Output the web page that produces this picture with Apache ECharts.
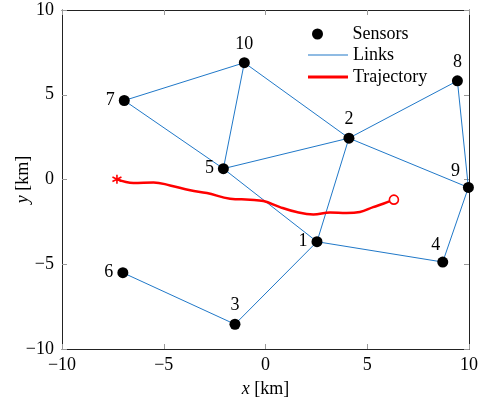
<!DOCTYPE html>
<html>
<head>
<meta charset="utf-8">
<script src="https://cdn.jsdelivr.net/npm/echarts@6/dist/echarts.min.js"></script>
<style>html,body{margin:0;padding:0;background:#fff}#c{width:486px;height:405px}</style>
</head>
<body>
<div id="c"></div>
<script>
// ---- data ----
const sensorIds = ['1','2','3','4','5','6','7','8','9','10'];
const sensorX = [2.53, 4.10, -1.50, 8.71, -2.07, -7.01, -6.94, 9.43, 9.97, -1.04];
const sensorY = [-3.67, 2.44, -8.54, -4.87, 0.64, -5.50, 4.66, 5.82, -0.47, 6.89];
// links as pairs of sensor ids
const linkFrom = ['7','7','10','10','5','5','2','2','2','8','9','4','1','3'];
const linkTo   = ['10','5','5','2','2','1','1','8','9','9','4','1','3','6'];
const trajX = [-7.30, -6.49, -5.50, -4.69, -3.70, -2.88, -1.74, -0.76, -0.10, 0.71, 1.53, 2.35, 3.17, 3.98, 4.64, 5.29, 5.78, 6.31];
const trajY = [0.02, -0.21, -0.17, -0.35, -0.64, -0.80, -1.13, -1.19, -1.27, -1.63, -1.92, -2.06, -1.94, -1.98, -1.92, -1.63, -1.43, -1.19];
const xTicks = [-10, -5, 0, 5, 10];
const yTicks = [-10, -5, 0, 5, 10];

// ---- styles ----
const labelPos = {'1':'left','2':'top','3':'top','4':[-6,-20],'5':'left','6':'left','7':'left','8':'top','9':[-12,-20],'10':'top'};
const FONT = 'Liberation Serif';
const FS = 18;
const BLUE = '#2078c8';
const RED = '#ff0000';
const fmt = v => (xTicks.indexOf(v) >= 0 || yTicks.indexOf(v) >= 0) ? String(v).replace('-', '\u2212') : '';

const idx = id => sensorIds.indexOf(id);
const series = [];
linkFrom.forEach((a, i) => {
  const b = linkTo[i];
  series.push({
    name: 'Links', type: 'line', symbol: 'none', silent: true,
    data: [[sensorX[idx(a)], sensorY[idx(a)]], [sensorX[idx(b)], sensorY[idx(b)]]],
    lineStyle: {color: BLUE, width: 1}, itemStyle: {color: BLUE}, z: 2
  });
});
series.push({
  name: 'Trajectory', type: 'line', symbol: 'none', smooth: 0.4,
  data: trajX.map((x, i) => [x, trajY[i]]),
  lineStyle: {color: RED, width: 2.5}, itemStyle: {color: RED}, z: 3
});
series.push({
  name: 'TrajStart', type: 'scatter',
  symbol: 'path://M0,-5L0,5M-4.33,-2.5L4.33,2.5M-4.33,2.5L4.33,-2.5',
  symbolSize: 9,
  data: [[trajX[0], trajY[0]]],
  itemStyle: {color: 'none', borderColor: RED, borderWidth: 1.6, opacity: 1}, z: 4
});
series.push({
  name: 'TrajEnd', type: 'scatter', symbol: 'circle', symbolSize: 9,
  data: [[trajX[trajX.length - 1], trajY[trajY.length - 1]]],
  itemStyle: {color: '#fff', borderColor: RED, borderWidth: 1.6, opacity: 1}, z: 4
});
series.push({
  name: 'Sensors', type: 'scatter', symbol: 'circle', symbolSize: 11,
  data: sensorIds.map((id, i) => ({
    value: [sensorX[i], sensorY[i]],
    label: {show: true, formatter: id, position: labelPos[id], distance: 4,
            color: '#000', fontFamily: FONT, fontSize: FS}
  })),
  itemStyle: {color: '#000', opacity: 1}, z: 5
});

const axisCommon = {
  type: 'value', min: -10, max: 10, interval: 5,
  splitLine: {show: false},
  axisLine: {show: true, onZero: false, lineStyle: {color: '#222', width: 1}},
  axisTick: {show: true, inside: true, length: 5, lineStyle: {color: '#999'}},
};

const legendText = {color: '#000', fontFamily: FONT, fontSize: FS};
const chart = echarts.init(document.getElementById('c'), null, {renderer: 'canvas'});
chart.setOption({
  animation: false,
  backgroundColor: '#fff',
  grid: {left: 62, right: 17, top: 10, bottom: 56, containLabel: false, outerBoundsMode: 'none'},
  xAxis: [
    Object.assign({}, axisCommon, {
      position: 'bottom',
      axisLabel: {formatter: fmt, color: '#000', fontFamily: FONT, fontSize: FS, margin: 7},
      name: '{i|x} [km]', nameLocation: 'middle', nameGap: 31, nameMoveOverlap: false,
      nameTextStyle: {color: '#000', fontFamily: FONT, fontSize: FS,
        rich: {i: {fontStyle: 'italic', fontFamily: FONT, fontSize: FS, color: '#000'}}}
    }),
    Object.assign({}, axisCommon, {position: 'top', axisLabel: {show: false}})
  ],
  yAxis: [
    Object.assign({}, axisCommon, {
      position: 'left',
      axisLabel: {formatter: fmt, color: '#000', fontFamily: FONT, fontSize: FS, margin: 8},
      name: '{i|y} [km]', nameLocation: 'middle', nameGap: 30, nameMoveOverlap: false,
      nameTextStyle: {color: '#000', fontFamily: FONT, fontSize: FS,
        rich: {i: {fontStyle: 'italic', fontFamily: FONT, fontSize: FS, color: '#000'}}}
    }),
    Object.assign({}, axisCommon, {position: 'right', axisLabel: {show: false}})
  ],
  legend: [
    {left: 307, top: 20, itemWidth: 40, itemHeight: 11, selectedMode: false,
     data: [{name: 'Sensors', icon: 'circle'}],
     textStyle: Object.assign({padding: [0, 0, 0, 10]}, legendText)},
    {left: 303, top: 41, itemWidth: 40, itemHeight: 1, selectedMode: false,
     data: [{name: 'Links', icon: 'rect'}], textStyle: legendText},
    {left: 303, top: 63, itemWidth: 40, itemHeight: 3, selectedMode: false,
     data: [{name: 'Trajectory', icon: 'rect'}], textStyle: legendText}
  ],
  series: series
});
</script>
</body>
</html>
